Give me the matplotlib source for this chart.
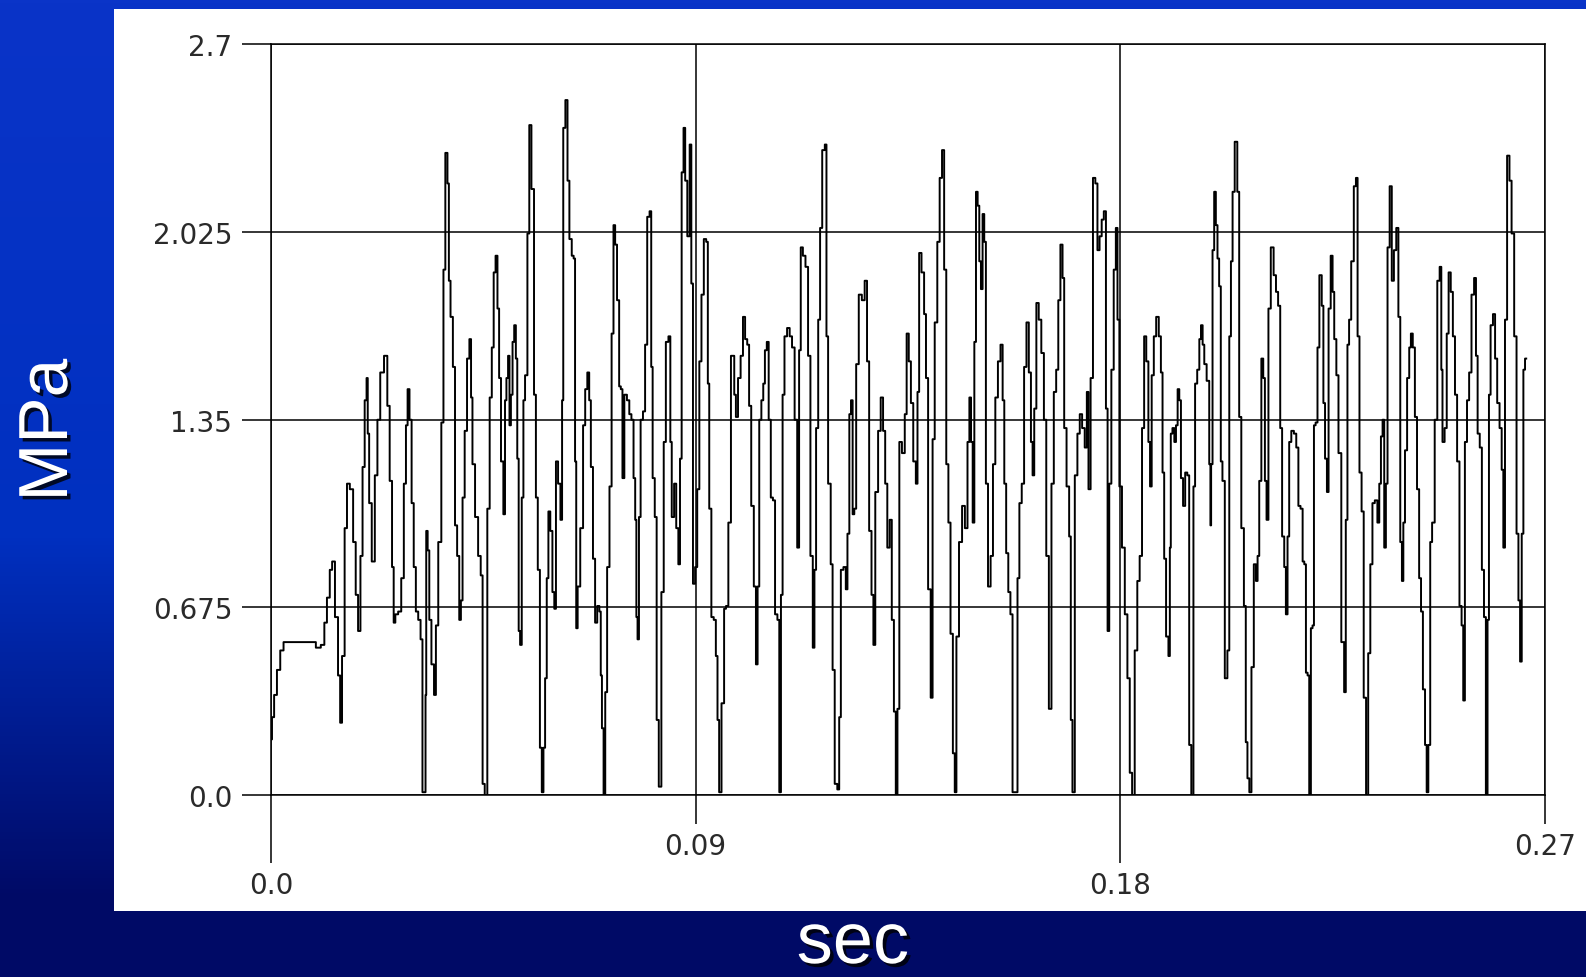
import numpy as np
import matplotlib
matplotlib.use('Agg')
import matplotlib.pyplot as plt
import matplotlib.patheffects as pe
from matplotlib.colors import LinearSegmentedColormap
from matplotlib.patches import Rectangle

# pressure trace (turning points)
time_s = [
    0.0000, 0.0004, 0.0009, 0.0016, 0.0023, 0.0030, 0.0090, 0.0100, 0.0111, 0.0115,
    0.0122, 0.0127, 0.0132, 0.0139, 0.0145, 0.0148, 0.0153, 0.0159, 0.0163, 0.0171,
    0.0177, 0.0182, 0.0187, 0.0192, 0.0196, 0.0201, 0.0204, 0.0206, 0.0210, 0.0217,
    0.0223, 0.0228, 0.0235, 0.0244, 0.0249, 0.0254, 0.0259, 0.0261, 0.0266, 0.0273,
    0.0279, 0.0284, 0.0288, 0.0291, 0.0296, 0.0300, 0.0305, 0.0309, 0.0315, 0.0319,
    0.0323, 0.0327, 0.0328, 0.0330, 0.0334, 0.0337, 0.0343, 0.0348, 0.0351, 0.0358,
    0.0364, 0.0367, 0.0372,
    0.0376, 0.0378, 0.0383, 0.0388, 0.0392, 0.0397, 0.0401, 0.0404, 0.0408, 0.0413,
    0.0418, 0.0423, 0.0425, 0.0429, 0.0436, 0.0442, 0.0447, 0.0450, 0.0456, 0.0461,
    0.0466, 0.0470, 0.0474, 0.0478, 0.0482, 0.0485, 0.0490, 0.0495, 0.0497, 0.0501,
    0.0504, 0.0507, 0.0510, 0.0514, 0.0517, 0.0521, 0.0523, 0.0527, 0.0529, 0.0534,
    0.0536, 0.0541, 0.0546, 0.0549, 0.0555, 0.0560, 0.0563, 0.0568, 0.0572, 0.0576,
    0.0579, 0.0583, 0.0586, 0.0590, 0.0594, 0.0599, 0.0602, 0.0606, 0.0611, 0.0616,
    0.0618, 0.0621, 0.0627, 0.0630, 0.0635, 0.0640, 0.0643, 0.0646, 0.0648, 0.0652,
    0.0659, 0.0664, 0.0668, 0.0673, 0.0676, 0.0680, 0.0685, 0.0689, 0.0694, 0.0698,
    0.0700, 0.0703, 0.0707, 0.0710, 0.0715, 0.0720, 0.0724, 0.0728, 0.0731, 0.0736,
    0.0740, 0.0743, 0.0747, 0.0751, 0.0758,
    0.0761, 0.0767, 0.0770, 0.0774, 0.0775, 0.0779, 0.0781, 0.0786, 0.0791, 0.0795,
    0.0800, 0.0805, 0.0807, 0.0811, 0.0816, 0.0819, 0.0825, 0.0830, 0.0835, 0.0839,
    0.0846, 0.0847, 0.0852, 0.0857, 0.0861, 0.0866, 0.0868, 0.0873, 0.0876, 0.0880,
    0.0885, 0.0890, 0.0892, 0.0897, 0.0901, 0.0906, 0.0910, 0.0915, 0.0920, 0.0925,
    0.0927, 0.0931, 0.0936, 0.0941, 0.0945, 0.0948, 0.0952, 0.0958, 0.0963, 0.0966,
    0.0973, 0.0977, 0.0980, 0.0984, 0.0987, 0.0993, 0.0998, 0.1003, 0.1007, 0.1012,
    0.1015, 0.1021, 0.1026, 0.1030, 0.1033, 0.1037, 0.1042, 0.1045, 0.1049, 0.1053,
    0.1057, 0.1062, 0.1066, 0.1071, 0.1076, 0.1079, 0.1083, 0.1086, 0.1091, 0.1097,
    0.1102, 0.1107, 0.1113, 0.1118, 0.1121, 0.1125, 0.1130, 0.1136, 0.1141,
    0.1146, 0.1151, 0.1153, 0.1158, 0.1162, 0.1166, 0.1171, 0.1177, 0.1178, 0.1184,
    0.1189, 0.1192, 0.1198, 0.1203, 0.1206, 0.1210, 0.1217, 0.1220, 0.1224, 0.1228,
    0.1231, 0.1235, 0.1238, 0.1243, 0.1249, 0.1256, 0.1261, 0.1266, 0.1270, 0.1276,
    0.1278, 0.1284, 0.1290, 0.1295, 0.1300, 0.1304, 0.1309, 0.1314, 0.1318, 0.1323,
    0.1326, 0.1330, 0.1334, 0.1341, 0.1346, 0.1349, 0.1355, 0.1358, 0.1365, 0.1369,
    0.1372, 0.1376, 0.1382, 0.1387, 0.1390, 0.1396, 0.1401, 0.1404, 0.1410, 0.1415,
    0.1420, 0.1425, 0.1429, 0.1434, 0.1438, 0.1443, 0.1448, 0.1451, 0.1455, 0.1462,
    0.1468, 0.1474, 0.1479, 0.1482, 0.1486, 0.1489, 0.1493, 0.1496, 0.1500, 0.1503,
    0.1507,
    0.1510, 0.1514, 0.1517, 0.1523, 0.1528, 0.1533, 0.1538, 0.1544, 0.1549, 0.1553,
    0.1556, 0.1561, 0.1565, 0.1570, 0.1574, 0.1581, 0.1584, 0.1589, 0.1594, 0.1599,
    0.1604, 0.1609, 0.1613, 0.1616, 0.1620, 0.1625, 0.1630, 0.1636, 0.1641, 0.1646,
    0.1652, 0.1657, 0.1662, 0.1667, 0.1671, 0.1676, 0.1680, 0.1683, 0.1690, 0.1694,
    0.1697, 0.1701, 0.1707, 0.1712, 0.1717, 0.1722, 0.1728, 0.1731, 0.1735, 0.1740,
    0.1745, 0.1750, 0.1754, 0.1759, 0.1763, 0.1768, 0.1772, 0.1775, 0.1779, 0.1784,
    0.1789, 0.1793, 0.1796, 0.1801, 0.1807, 0.1813, 0.1818, 0.1823, 0.1828, 0.1834,
    0.1839, 0.1844, 0.1849, 0.1853, 0.1858, 0.1862, 0.1865, 0.1869, 0.1874, 0.1879,
    0.1885,
    0.1888, 0.1892, 0.1895, 0.1900, 0.1905, 0.1906, 0.1909, 0.1913, 0.1917, 0.1920,
    0.1924, 0.1927, 0.1931, 0.1936, 0.1940, 0.1945, 0.1948, 0.1954, 0.1957, 0.1961,
    0.1966, 0.1970, 0.1973, 0.1977, 0.1980, 0.1987, 0.1991, 0.1992, 0.1994, 0.1998,
    0.2001, 0.2005, 0.2008, 0.2012, 0.2015, 0.2019, 0.2025, 0.2030, 0.2033, 0.2037,
    0.2040, 0.2046, 0.2051, 0.2054, 0.2060, 0.2065, 0.2068, 0.2072, 0.2076, 0.2081,
    0.2086, 0.2090, 0.2093, 0.2097, 0.2102, 0.2105, 0.2109, 0.2112, 0.2117, 0.2122,
    0.2129, 0.2132, 0.2138, 0.2141, 0.2146, 0.2150, 0.2153, 0.2157, 0.2160, 0.2166,
    0.2171, 0.2176, 0.2180, 0.2185, 0.2189, 0.2192, 0.2196, 0.2199, 0.2203, 0.2206,
    0.2210, 0.2212, 0.2217, 0.2220, 0.2225, 0.2230, 0.2232, 0.2237, 0.2240, 0.2244,
    0.2249, 0.2252, 0.2256, 0.2261, 0.2265,
    0.2273, 0.2277, 0.2280, 0.2284, 0.2287, 0.2293, 0.2298, 0.2302, 0.2305, 0.2310,
    0.2314, 0.2319, 0.2324, 0.2328, 0.2333, 0.2337, 0.2343, 0.2348, 0.2351, 0.2355,
    0.2358, 0.2362, 0.2365, 0.2369, 0.2374, 0.2378, 0.2383, 0.2388, 0.2392, 0.2396,
    0.2399, 0.2402, 0.2406, 0.2411, 0.2415, 0.2418, 0.2423, 0.2427, 0.2432, 0.2436,
    0.2440, 0.2444, 0.2449, 0.2451, 0.2456, 0.2459, 0.2464, 0.2470, 0.2475, 0.2480,
    0.2482, 0.2485, 0.2491, 0.2494, 0.2499, 0.2503, 0.2508, 0.2512, 0.2517, 0.2522,
    0.2526, 0.2529, 0.2533, 0.2538, 0.2542, 0.2548, 0.2553, 0.2556, 0.2560, 0.2565,
    0.2569, 0.2574, 0.2577, 0.2581, 0.2583, 0.2588, 0.2593, 0.2597, 0.2602, 0.2607,
    0.2611, 0.2614, 0.2618, 0.2623, 0.2628, 0.2632, 0.2639, 0.2642, 0.2647, 0.2649,
    0.2654, 0.2656, 0.2661,
]
pressure_mpa = [
    0.20, 0.28, 0.36, 0.45, 0.52, 0.55, 0.55, 0.53, 0.54, 0.62,
    0.71, 0.81, 0.84, 0.64, 0.43, 0.26, 0.50, 0.96, 1.12, 1.10,
    0.91, 0.72, 0.59, 0.86, 1.18, 1.42, 1.50, 1.30, 1.05, 0.84,
    1.15, 1.35, 1.52, 1.58, 1.40, 1.13, 0.82, 0.62, 0.65, 0.66,
    0.78, 1.12, 1.33, 1.46, 1.35, 1.05, 0.82, 0.66, 0.63, 0.56,
    0.01, 0.01, 0.36, 0.95, 0.88, 0.63, 0.47, 0.36, 0.61, 0.91,
    1.34, 1.89, 2.31,
    2.20, 1.85, 1.72, 1.54, 0.97, 0.86, 0.63, 0.70, 1.07, 1.31,
    1.57, 1.64, 1.43, 1.19, 1.00, 0.86, 0.79, 0.04, 0.00, 1.03,
    1.43, 1.61, 1.88, 1.94, 1.75, 1.50, 1.20, 1.01, 1.42, 1.50,
    1.58, 1.33, 1.44, 1.63, 1.69, 1.57, 1.21, 0.59, 0.54, 1.07,
    1.42, 1.51, 2.02, 2.41, 2.18, 1.44, 1.07, 0.81, 0.17, 0.01,
    0.17, 0.42, 0.78, 1.02, 0.95, 0.73, 0.67, 1.20, 1.12, 0.99,
    1.42, 2.40, 2.50, 2.21, 2.00, 1.94, 1.93, 1.20, 0.60, 0.75,
    0.96, 1.33, 1.46, 1.52, 1.42, 1.18, 0.85, 0.62, 0.68, 0.66,
    0.43, 0.24, 0.00, 0.37, 0.82, 1.11, 1.66, 2.05, 1.98, 1.78,
    1.47, 1.46, 1.14, 1.44, 1.42,
    1.37, 1.35, 1.14, 0.99, 0.64, 0.56, 1.00, 1.35, 1.38, 1.62,
    2.08, 2.10, 1.54, 1.14, 1.00, 0.27, 0.03, 0.73, 1.27, 1.63,
    1.65, 1.27, 1.00, 1.12, 0.96, 0.83, 1.21, 2.24, 2.40, 2.21,
    2.01, 2.34, 1.84, 0.76, 0.82, 1.10, 1.56, 1.80, 2.00, 1.99,
    1.48, 1.03, 0.64, 0.63, 0.50, 0.27, 0.01, 0.33, 0.67, 0.68,
    0.98, 1.58, 1.58, 1.44, 1.36, 1.50, 1.58, 1.72, 1.64, 1.62,
    1.40, 1.04, 0.75, 0.47, 0.75, 1.35, 1.42, 1.48, 1.60, 1.63,
    1.35, 1.07, 1.06, 0.65, 0.63, 0.01, 0.72, 1.44, 1.65, 1.68,
    1.65, 1.61, 1.35, 0.89, 1.60, 1.97, 1.94, 1.90, 1.58,
    0.86, 0.53, 0.81, 1.32, 1.71, 2.04, 2.32, 2.34, 1.65, 1.12,
    0.83, 0.45, 0.04, 0.02, 0.28, 0.81, 0.82, 0.74, 0.94, 1.37,
    1.42, 1.01, 1.03, 1.55, 1.80, 1.78, 1.85, 1.56, 0.95, 0.72,
    0.54, 1.09, 1.31, 1.43, 1.31, 1.12, 0.89, 0.99, 0.63, 0.30,
    0.00, 0.31, 1.27, 1.23, 1.37, 1.66, 1.56, 1.41, 1.20, 1.12,
    1.45, 1.95, 1.88, 1.73, 1.50, 0.74, 0.35, 1.28, 1.70, 1.99,
    2.22, 2.32, 1.89, 1.19, 0.98, 0.58, 0.15, 0.01, 0.57, 0.91,
    1.04, 0.96, 1.27, 1.43, 1.27, 0.98, 1.63, 2.17, 2.12, 1.92,
    1.82,
    2.09, 1.99, 1.12, 0.75, 0.86, 1.19, 1.43, 1.56, 1.62, 1.42,
    1.12, 0.87, 0.73, 0.65, 0.01, 0.01, 0.78, 1.05, 1.12, 1.54,
    1.70, 1.52, 1.27, 1.15, 1.39, 1.77, 1.71, 1.59, 1.35, 0.86,
    0.31, 1.12, 1.45, 1.53, 1.78, 1.98, 1.86, 1.32, 1.11, 0.93,
    0.27, 0.01, 1.15, 1.30, 1.37, 1.32, 1.25, 1.45, 1.10, 1.50,
    2.22, 2.20, 1.96, 2.01, 2.07, 2.10, 1.39, 0.59, 1.12, 1.53,
    1.89, 2.04, 1.71, 1.11, 0.89, 0.65, 0.42, 0.08, 0.00, 0.52,
    0.77, 0.86, 1.32, 1.65, 1.56, 1.27, 1.11, 1.51, 1.65, 1.72,
    1.65,
    1.52, 1.16, 0.85, 0.57, 0.50, 0.89, 1.30, 1.32, 1.27, 1.33,
    1.46, 1.42, 1.14, 1.04, 1.16, 1.15, 0.18, 0.00, 1.11, 1.48,
    1.53, 1.64, 1.69, 1.62, 1.55, 1.49, 1.19, 0.97, 1.19, 1.96,
    2.17, 2.05, 1.93, 1.83, 1.20, 1.13, 0.42, 0.52, 1.65, 1.92,
    2.17, 2.35, 2.17, 1.36, 0.96, 0.68, 0.19, 0.06, 0.01, 0.46,
    0.83, 0.77, 0.86, 1.13, 1.57, 1.50, 1.13, 0.99, 1.75, 1.97,
    1.87, 1.81, 1.76, 1.32, 0.93, 0.82, 0.65, 0.93, 1.27, 1.31,
    1.30, 1.25, 1.04, 1.03, 0.84, 0.83, 0.44, 0.43, 0.00, 0.60,
    0.61, 1.33, 1.34, 1.61, 1.87, 1.76, 1.41, 1.21, 1.09, 1.75,
    1.94, 1.81, 1.64, 1.51, 1.23,
    0.55, 0.37, 0.99, 1.62, 1.71, 1.92, 2.19, 2.22, 1.65, 1.16,
    1.02, 0.35, 0.00, 0.51, 0.83, 1.05, 1.06, 0.98, 1.12, 1.29,
    1.35, 0.89, 1.12, 1.97, 2.19, 1.85, 1.96, 2.04, 1.72, 0.91,
    0.77, 0.98, 1.24, 1.50, 1.61, 1.66, 1.61, 1.36, 1.10, 0.78,
    0.66, 0.38, 0.18, 0.01, 0.18, 0.91, 0.98, 1.35, 1.85, 1.90,
    1.53, 1.27, 1.32, 1.66, 1.88, 1.81, 1.65, 1.44, 1.20, 0.68,
    0.61, 0.34, 1.27, 1.42, 1.52, 1.80, 1.86, 1.58, 1.30, 1.25,
    0.81, 0.64, 0.00, 0.63, 1.44, 1.69, 1.73, 1.57, 1.41, 1.32,
    1.17, 0.89, 1.71, 2.30, 2.21, 2.02, 1.65, 0.94, 0.70, 0.48,
    0.94, 1.53, 1.57,
]

x_major = [0.0, 0.18]
x_major_labels = ['0.0', '0.18']
x_minor = [0.09, 0.27]
x_minor_labels = ['0.09', '0.27']
y_ticks = [0.0, 0.675, 1.35, 2.025, 2.7]
y_labels = ['0.0', '0.675', '1.35', '2.025', '2.7']

fig = plt.figure(figsize=(15.86, 9.78), dpi=100)

# blue slide background
bg = fig.add_axes([0, 0, 1, 1])
bg.set_axis_off()
grad = np.linspace(0, 1, 256).reshape(-1, 1)
cmap = LinearSegmentedColormap.from_list(
    'slide', [(0.0, '#0a34c8'), (0.55, '#0030c0'), (0.92, '#000a66'), (1.0, '#000a66')])
bg.imshow(grad, aspect='auto', cmap=cmap, extent=[0, 1, 0, 1], origin='upper')
bg.add_patch(Rectangle((0.0719, 0.0675), 1 - 0.0719, 0.9898 - 0.0675,
                       transform=bg.transAxes, facecolor='white', edgecolor='none'))
bg.set_xlim(0, 1)
bg.set_ylim(0, 1)

ax = fig.add_axes([0.1709, 0.1861, 0.8030, 0.7674])
ax.set_facecolor('white')
ax.plot(time_s, pressure_mpa, color='black', lw=1.4, drawstyle='steps-mid')
ax.set_xlim(0, 0.27)
ax.set_ylim(0, 2.7)

ax.set_xticks(x_major, x_major_labels)
ax.set_xticks(x_minor, x_minor_labels, minor=True)
ax.set_yticks(y_ticks, y_labels)
ax.tick_params(axis='x', which='major', length=49, width=1.1, pad=6,
               labelsize=20, labelcolor='#2a2a2a')
ax.tick_params(axis='x', which='minor', length=21, width=1.1, pad=6,
               labelsize=20, labelcolor='#2a2a2a')
ax.tick_params(axis='y', length=21, width=1.1, pad=7,
               labelsize=20, labelcolor='#2a2a2a')
ax.grid(True, which='both', color='black', lw=1.1)
for s in ax.spines.values():
    s.set_linewidth(1.1)
    s.set_color('black')

shadow = [pe.withSimplePatchShadow(offset=(2.5, -2.5), shadow_rgbFace='black', alpha=0.8)]
fig.text(49 / 1586, 1 - 431 / 978, 'MPa', rotation=90, ha='center', va='center',
         fontsize=50, color='white', family='Liberation Sans', path_effects=shadow)
fig.text(853 / 1586, 14 / 978, 'sec', ha='center', va='baseline',
         fontsize=52, color='white', family='Liberation Sans', path_effects=shadow)

fig.savefig('out.png', dpi=100)
